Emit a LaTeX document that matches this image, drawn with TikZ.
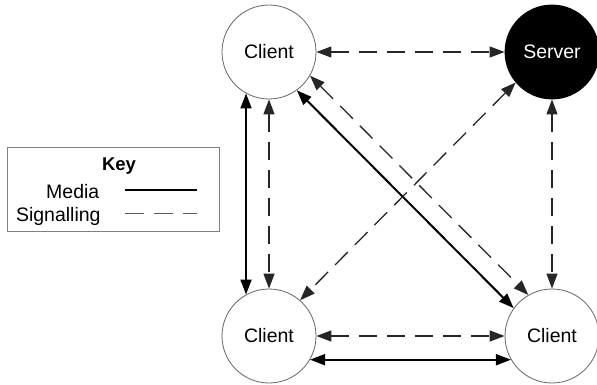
\documentclass[tikz,border=0pt]{standalone}
\usepackage{fontspec}
\setmainfont{Liberation Sans}
\usetikzlibrary{arrows.meta}
\begin{document}
\begin{tikzpicture}[x=1pt,y=-1pt,
  every node/.style={font=\fontsize{19.5}{23}\selectfont},
  party/.style={circle,draw=black!60,line width=0.8pt,minimum size=94pt,inner sep=0pt},
  srvstyle/.style={party,fill=black,draw=black,text=white},
  tip/.style={},
  media/.style={line width=2pt,draw=black,{Triangle[length=15pt,width=11pt]}-{Triangle[length=15pt,width=11pt]}},
  signal/.style={line width=1.3pt,draw=black!85,dash pattern=on 18pt off 10pt,{Triangle[length=15pt,width=11pt]}-{Triangle[length=15pt,width=11pt]}},
  keybox/.style={draw=black!50,line width=0.8pt,minimum width=212pt,minimum height=84.5pt,inner sep=0pt}
]
\useasboundingbox (0,0) rectangle (597,385);

% parties
\node[party] (c1) at (269,52) {Client};
\node[srvstyle] (srv) at (552,52) {Server};
\node[party] (c3) at (269,336) {Client};
\node[party] (c4) at (552,336) {Client};

% connectors
\draw[signal] (c1.east) -- (srv.west);
\draw[signal] (c3.east) -- (c4.west);
\draw[media] (c3.-30.7) -- (c4.210.7);
\draw[media] (c1.-119) -- (c3.119);
\draw[signal] (c1.south) -- (c3.north);
\draw[signal] (srv.south) -- (c4.north);
\draw[media] (c1.-54.5) -- (c4.144.5);
\draw[signal] (c1.-30.2) -- (c4.120.2);
\draw[signal] (srv.220.7) -- (c3.49.3);

% key
\node[keybox] (key) at (113,189.5) {};
\node[anchor=base,font=\fontsize{18.5}{22}\selectfont\bfseries] (keyt) at (119,171) {Key};
\node[anchor=base east,inner sep=0pt] (kmedia) at (99.5,198.3) {Media};
\node[anchor=base east,inner sep=0pt] (ksig) at (100.8,221.7) {Signalling};
\coordinate (m1) at (125,190);
\coordinate (m2) at (197,190);
\coordinate (s1) at (125,213.3);
\coordinate (s2) at (197,213.3);
\draw[line width=1.7pt] (m1) -- (m2);
\draw[line width=1.3pt,draw=black!65,dash pattern=on 19pt off 10pt] (s1) -- (s2);
\end{tikzpicture}
\end{document}
